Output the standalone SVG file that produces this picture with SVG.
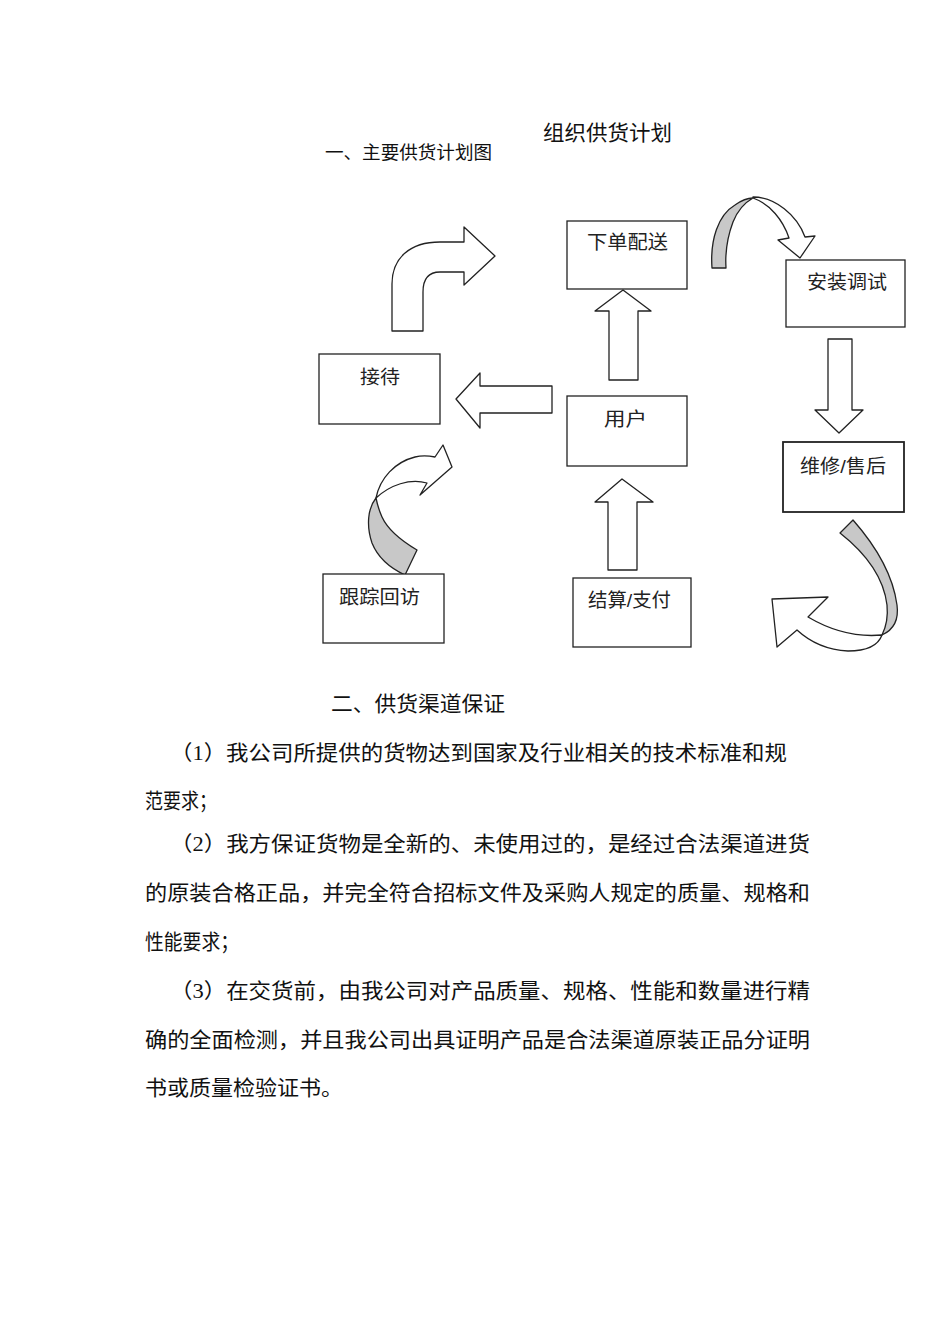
<svg xmlns="http://www.w3.org/2000/svg" width="950" height="1318" viewBox="0 0 950 1318">
<style>
.box{fill:#fff;stroke:#222;stroke-width:1.3}
.lbl{font-family:"Liberation Sans","Noto Sans CJK SC",sans-serif;font-size:19px;fill:#222}
.arr{fill:#fff;stroke:#222;stroke-width:1.3;stroke-linejoin:round}
.g{fill:#c8c8c8;stroke:#222;stroke-width:1.3;stroke-linejoin:round}
.body{font-family:"Liberation Serif","Noto Sans CJK SC",serif;font-size:21px;fill:#111}
</style>
<rect width="950" height="1318" fill="#fff"/>
<text class="body" x="543" y="140" textLength="129" lengthAdjust="spacingAndGlyphs">组织供货计划</text>
<text class="body" x="325" y="159" style="font-size:18px" textLength="167" lengthAdjust="spacingAndGlyphs">一、主要供货计划图</text>

<g id="connectors">
  <!-- up arrow 用户 -> 下单配送 -->
  <path class="arr" d="M609,380 L609,311 L595,311 L623,290 L651,311 L638,311 L638,380 Z"/>
  <!-- up arrow 结算 -> 用户 -->
  <path class="arr" d="M608,570 L608,502 L595,502 L622,479 L653,502 L637,502 L637,570 Z"/>
  <!-- left arrow 用户 -> 接待 -->
  <path class="arr" d="M552,386 L480,386 L480,373 L456,399 L480,428 L480,413 L552,413 Z"/>
  <!-- down arrow 安装 -> 维修 -->
  <path class="arr" d="M828,339 L852,339 L852,410 L863,410 L839,433 L815,410 L828,410 Z"/>
  <!-- bent arrow from 接待 -->
  <path class="arr" d="M392,331 L392,284 C392,258 410,242 440,242 L464,242 L464,227 L495,256 L464,285 L464,272 L440,272 C429,272 423,279 423,292 L423,331 Z"/>
  <!-- curved arrow 下单配送 -> 安装调试 -->
  <path class="g" d="M712,268 C710,240 718,215 735,205 C742,200 748,198 753,198 C744,203 737,212 733,222 C727,238 725,252 726,268 Z"/>
  <path class="arr" d="M753,197 C775,197 797,215 805,237 L815,236 L800,258 L778,240 L789,238 C783,220 770,204 753,198 Z"/>
  <!-- curved arrow 维修 -> 结算 -->
  <path class="g" d="M840,533 L853,520 C875,545 893,575 897,605 C899,620 893,630 882,635 C887,625 888,615 887,605 C884,580 868,555 840,533 Z"/>
  <path class="arr" d="M882,635 C878,646 866,651 848,651 C828,650 810,642 797,630 L777,647 L772,599 L828,597 L808,617 C825,627 850,638 882,635 Z"/>
  <!-- curved arrow 跟踪回访 -> 接待 -->
  <path class="g" d="M405,575 L417,550 C400,540 388,530 382,517 C378,508 377,503 376,498 C368,508 366,525 372,543 C378,558 390,568 405,575 Z"/>
  <path class="arr" d="M376,498 C380,478 395,462 415,457 C423,455 430,456 435,457 L443,445 L452,467 L420,495 L427,483 C410,478 390,485 376,498 Z"/>
</g>

<g id="n-xiadan"><rect class="box" x="567" y="221" width="120" height="68"/><text class="lbl" x="587" y="249" textLength="81" lengthAdjust="spacingAndGlyphs">下单配送</text></g>
<g id="n-anzhuang"><rect class="box" x="786" y="260" width="119" height="67"/><text class="lbl" x="807" y="289" textLength="80" lengthAdjust="spacingAndGlyphs">安装调试</text></g>
<g id="n-jiedai"><rect class="box" x="319" y="354" width="121" height="70"/><text class="lbl" x="360" y="384" textLength="40" lengthAdjust="spacingAndGlyphs">接待</text></g>
<g id="n-yonghu"><rect class="box" x="567" y="396" width="120" height="70"/><text class="lbl" x="604" y="426" textLength="43" lengthAdjust="spacingAndGlyphs">用户</text></g>
<g id="n-weixiu"><rect class="box" x="783" y="442" width="121" height="70" style="stroke-width:1.8"/><text class="lbl" x="800" y="473" textLength="86" lengthAdjust="spacingAndGlyphs">维修/售后</text></g>
<g id="n-genzong"><rect class="box" x="323" y="574" width="121" height="69"/><text class="lbl" x="339" y="604" textLength="81" lengthAdjust="spacingAndGlyphs">跟踪回访</text></g>
<g id="n-jiesuan"><rect class="box" x="573" y="578" width="118" height="69"/><text class="lbl" x="588" y="607" textLength="83" lengthAdjust="spacingAndGlyphs">结算/支付</text></g>

<g id="body-text">
<text class="body" x="331" y="711" textLength="174" lengthAdjust="spacingAndGlyphs">二、供货渠道保证</text>
<text class="body" x="170" y="760" textLength="617" lengthAdjust="spacingAndGlyphs">（1）我公司所提供的货物达到国家及行业相关的技术标准和规</text>
<text class="body" x="145" y="808" textLength="72" lengthAdjust="spacingAndGlyphs">范要求；</text>
<text class="body" x="170" y="851" textLength="640" lengthAdjust="spacingAndGlyphs">（2）我方保证货物是全新的、未使用过的，是经过合法渠道进货</text>
<text class="body" x="145" y="900" textLength="665" lengthAdjust="spacingAndGlyphs">的原装合格正品，并完全符合招标文件及采购人规定的质量、规格和</text>
<text class="body" x="145" y="949" textLength="94" lengthAdjust="spacingAndGlyphs">性能要求；</text>
<text class="body" x="170" y="998" textLength="640" lengthAdjust="spacingAndGlyphs">（3）在交货前，由我公司对产品质量、规格、性能和数量进行精</text>
<text class="body" x="145" y="1047" textLength="665" lengthAdjust="spacingAndGlyphs">确的全面检测，并且我公司出具证明产品是合法渠道原装正品分证明</text>
<text class="body" x="145" y="1095" textLength="198" lengthAdjust="spacingAndGlyphs">书或质量检验证书。</text>
</g>
</svg>
